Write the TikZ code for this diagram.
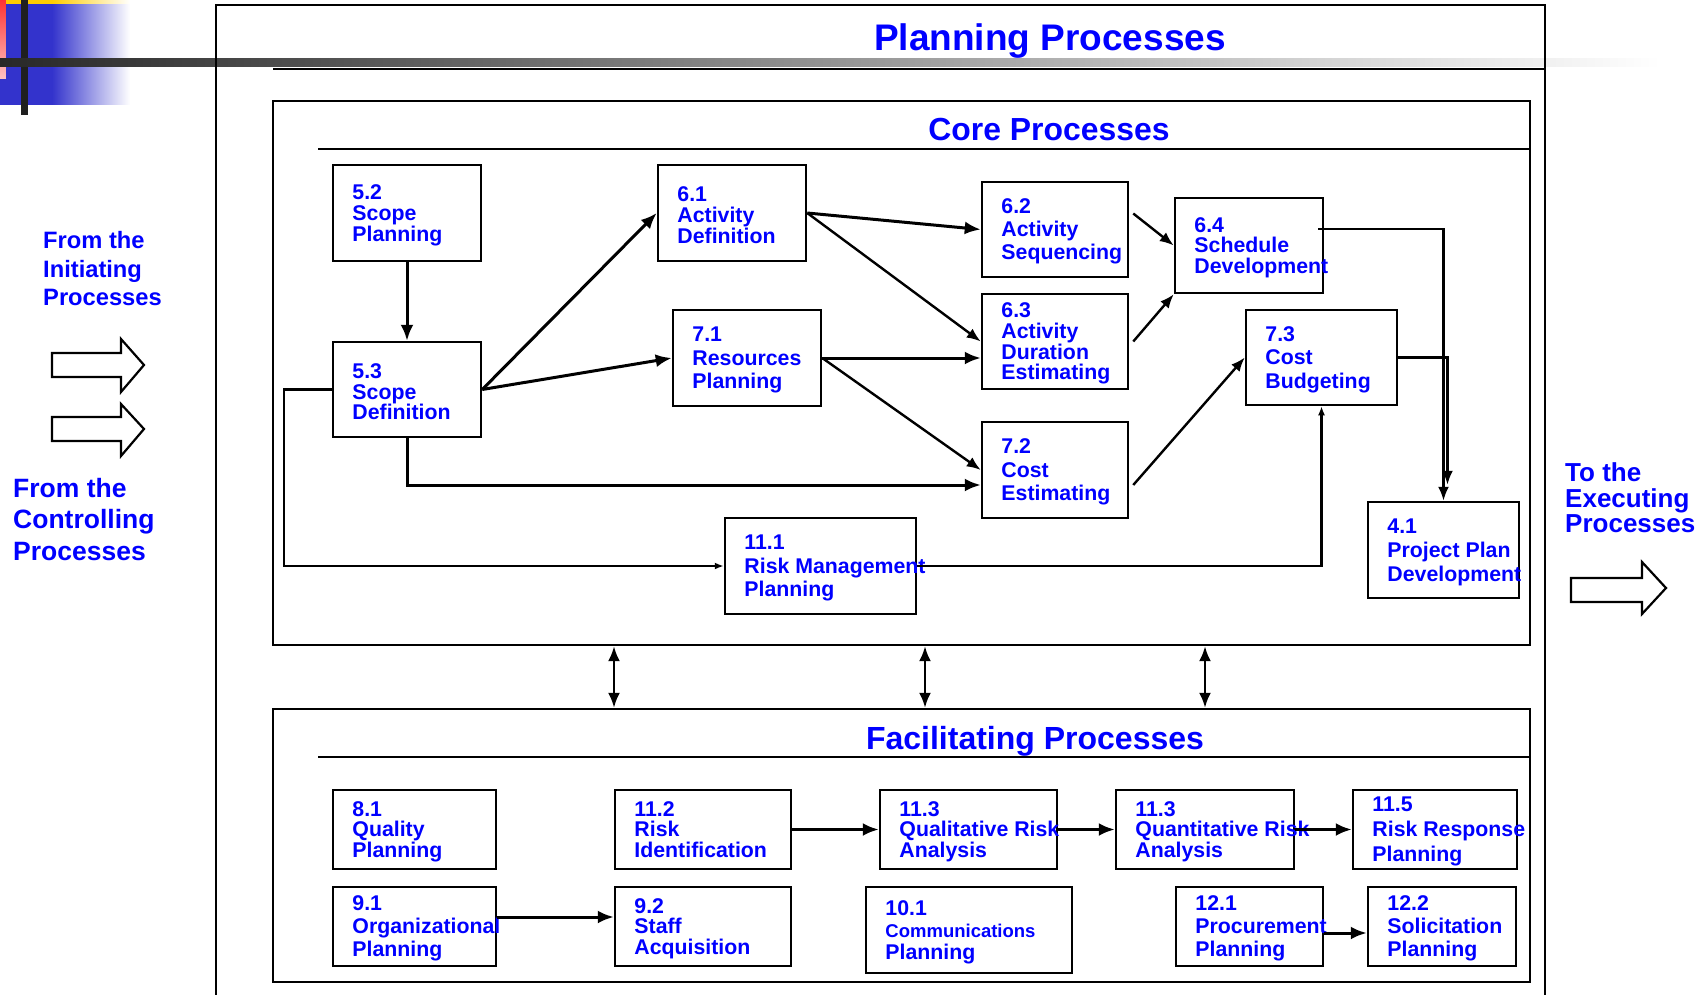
\documentclass[tikz,border=0pt]{standalone}
\usepackage{fontspec}
\setmainfont{Liberation Sans}
\usetikzlibrary{arrows.meta,calc}
\definecolor{txtblue}{RGB}{0,0,255}
\definecolor{decoblue}{RGB}{51,51,204}
\definecolor{decoredtop}{RGB}{255,51,51}
\definecolor{decoredbot}{RGB}{255,195,195}
\definecolor{decoyellow}{RGB}{255,204,0}
\definecolor{bardark}{RGB}{40,40,40}
% #1 name, #2 x1, #3 y1, #4 x2, #5 y2, #6 baselineskip, #7 text
\newcommand\procbox[7]{%
  \node[pbox, minimum width={#4-#2}, minimum height={#5-#3}] (#1) at ({(#2+#4)/2},{(#3+#5)/2}) {};
  \node[ptxt, anchor=west, font=\bfseries\fontsize{21.3}{#6}\selectfont] (#1t) at ([shift={(20.5pt,-2.2pt)}]#1.west) {#7};
}
\begin{document}
\begin{tikzpicture}[x=1pt,y=-1pt,
  pbox/.style={draw=black, line width=2.5pt, inner sep=0pt},
  frame/.style={draw=black, line width=2.3pt, inner sep=0pt},
  ptxt/.style={text=txtblue, align=left, inner sep=0pt},
  ttl/.style={text=txtblue, inner sep=0pt, anchor=base},
  arr/.style={line width=3pt, -{Latex[length=16pt,width=13pt]}},
  arrm/.style={line width=2.4pt, -{Latex[length=14pt,width=11pt]}},
  arrs/.style={line width=2.4pt, -{Latex[length=9pt,width=7pt]}},
  dbl/.style={line width=2.6pt, {Latex[length=15pt,width=12pt]}-{Latex[length=15pt,width=12pt]}},
  blockarrow/.style={draw=black, line width=2.2pt, fill=white, line join=miter}
]
\useasboundingbox (0,0) rectangle (1706,995);
\fill[white] (0,0) rectangle (1706,995);

% corner decoration
\shade[top color=decoredtop, bottom color=decoredbot] (0,0) rectangle (6,79);
\fill[decoblue] (0,79) rectangle (6,105);
\fill[decoyellow] (6,0) rectangle (52,4.5);
\shade[left color=decoyellow, right color=white] (52,0) rectangle (130,4.5);
\fill[decoblue] (6,4.5) rectangle (52,105);
\shade[left color=decoblue, right color=white] (52,4.5) rectangle (130,105);
\fill[black!88] (21,0) rectangle (28,115);
\shade[left color=bardark, right color=white] (0,59) rectangle (1660,67);

% outer frame (open at bottom)
\draw[line width=2.3pt] (216,995) -- (216,5) -- (1545,5) -- (1545,995);
\draw[line width=2.3pt] (273,69) -- (1545,69);
\node[ttl, font=\bfseries\fontsize{37}{40}\selectfont] (title) at (1050,51) {Planning Processes};

% core frame
\node[frame, minimum width=1257, minimum height=544] (core) at (901.5,373) {};
\draw[line width=2pt] (318,149) -- (1530,149);
\node[ttl, font=\bfseries\fontsize{31.9}{36}\selectfont] (coretitle) at (1049,141) {Core Processes};

% facilitating frame
\node[frame, minimum width=1257, minimum height=273] (fac) at (901.5,845.5) {};
\draw[line width=2pt] (318,757) -- (1530,757);
\node[ttl, font=\bfseries\fontsize{32}{36}\selectfont] (factitle) at (1035,749) {Facilitating Processes};

% core processes
\procbox{n52}{333}{165}{481}{261}{20.7}{5.2\\Scope\\Planning}
\procbox{n53}{333}{342}{481}{437}{20.7}{5.3\\Scope\\Definition}
\procbox{n61}{658}{165}{806}{261}{20.7}{6.1\\Activity\\Definition}
\procbox{n71}{673}{310}{821}{406}{23.5}{7.1\\Resources\\Planning}
\procbox{n62}{982}{182}{1128}{277}{23}{6.2\\Activity\\Sequencing}
\procbox{n63}{982}{294}{1128}{389}{20.7}{6.3\\Activity\\Duration\\Estimating}
\procbox{n72}{982}{422}{1128}{518}{23.5}{7.2\\Cost\\Estimating}
\procbox{n64}{1175}{198}{1323}{293}{20.7}{6.4\\Schedule\\Development}
\procbox{n73}{1246}{310}{1397}{405}{23.5}{7.3\\Cost\\Budgeting}
\procbox{n111}{725}{518}{916}{614}{23.5}{11.1\\Risk Management\\Planning}
\procbox{n41}{1368}{502}{1519}{598}{24}{4.1\\Project Plan\\Development}

% facilitating processes
\procbox{f81}{333}{790}{496}{869}{20.7}{8.1\\Quality\\Planning}
\procbox{f112}{615}{790}{791}{869}{20.7}{11.2\\Risk\\Identification\vphantom{g}}
\procbox{f113a}{880}{790}{1057}{869}{20.7}{11.3\\Qualitative Risk\\Analysis}
\procbox{f113b}{1116}{790}{1294}{869}{20.7}{11.3\\Quantitative Risk\\Analysis}
\procbox{f115}{1353}{790}{1517}{869}{25}{11.5\\Risk Response\\Planning}
\procbox{f91}{333}{887}{496}{966}{23}{9.1\\Organizational\\Planning}
\procbox{f92}{615}{887}{791}{966}{20.7}{9.2\\Staff\\Acquisition\vphantom{g}}
\procbox{f101}{866}{887}{1072}{973}{22}{10.1\\{\fontsize{18.5}{22}\selectfont Communications}\\Planning}
\procbox{f121}{1176}{887}{1323}{966}{23}{12.1\\Procurement\\Planning}
\procbox{f122}{1368}{887}{1516}{966}{23}{12.2\\Solicitation\\Planning}

% core connectors
\draw[arr] (n52.south) -- (n53.north);
\draw[arr] (n53.east) -- (n61.west);
\draw[arr] (n53.east) -- (n71.west);
\draw[arr] (n61.east) -- (n62.west);
\draw[arrm] (n61.east) -- (n63.west);
\draw[arr] (n71.east) -- (n71.east -| n63.west);
\draw[arrm] (n71.east) -- (n72.west);
\draw[arr] (n53.south) |- ([yshift=-15pt]n72.west);
\draw[arrs] (n53.west) -- ++(-48,0) |- (n111.west);
\draw[arrs] (n111.east) -| (n73.south);
\draw[arrm] ([shift={(4pt,16pt)}]n62.east) -- (n64.west);
\draw[arrm] ([xshift=4pt]n63.east) -- (n64.south west);
\draw[arrm] ([shift={(4pt,-15pt)}]n72.east) -- (n73.west);
\draw[arrm] ([shift={(-6pt,16.5pt)}]n64.east) -| (n41.north);
\draw[arrm] (n73.east) -- ([xshift=4pt]n73.east -| n41.north) -- ([shift={(4pt,16pt)}]n41.north);

% facilitating connectors
\draw[arr] (f112.east) -- (f113a.west);
\draw[arr] (f113a.east) -- (f113b.west);
\draw[arr] (f113b.east) -- (f115.west);
\draw[arr] ([yshift=9.5pt]f91.east) -- ([yshift=9.5pt]f91.east -| f92.west);
\draw[arr] ([yshift=-6.5pt]f121.east) -- ([yshift=-6.5pt]f121.east -| f122.west);

% between core and facilitating
\draw[dbl] ([xshift=-287.5pt]core.south) -- ([xshift=-287.5pt]fac.north);
\draw[dbl] ([xshift=23.5pt]core.south) -- ([xshift=23.5pt]fac.north);
\draw[dbl] ([xshift=303.5pt]core.south) -- ([xshift=303.5pt]fac.north);

% side texts
\node[ptxt, anchor=west, font=\bfseries\fontsize{23.7}{28.5}\selectfont] (frominit) at (43,269) {From the\\Initiating\\Processes};
\node[ptxt, anchor=west, font=\bfseries\fontsize{26.5}{31.5}\selectfont] (fromctrl) at (13,519.5) {From the\\Controlling\\Processes};
\node[ptxt, anchor=west, font=\bfseries\fontsize{26}{25.5}\selectfont] (toexec) at (1565,497.8) {To the\\Executing\\Processes};

% block arrows
\draw[blockarrow] (52,353) -- (121,353) -- (121,339) -- (144,365) -- (121,392) -- (121,377) -- (52,377) -- cycle;
\draw[blockarrow] (52,417) -- (121,417) -- (121,404) -- (144,429) -- (121,456) -- (121,441) -- (52,441) -- cycle;
\draw[blockarrow] (1571,578) -- (1642,578) -- (1642,562) -- (1666,588) -- (1642,614) -- (1642,602) -- (1571,602) -- cycle;
\end{tikzpicture}
\end{document}
